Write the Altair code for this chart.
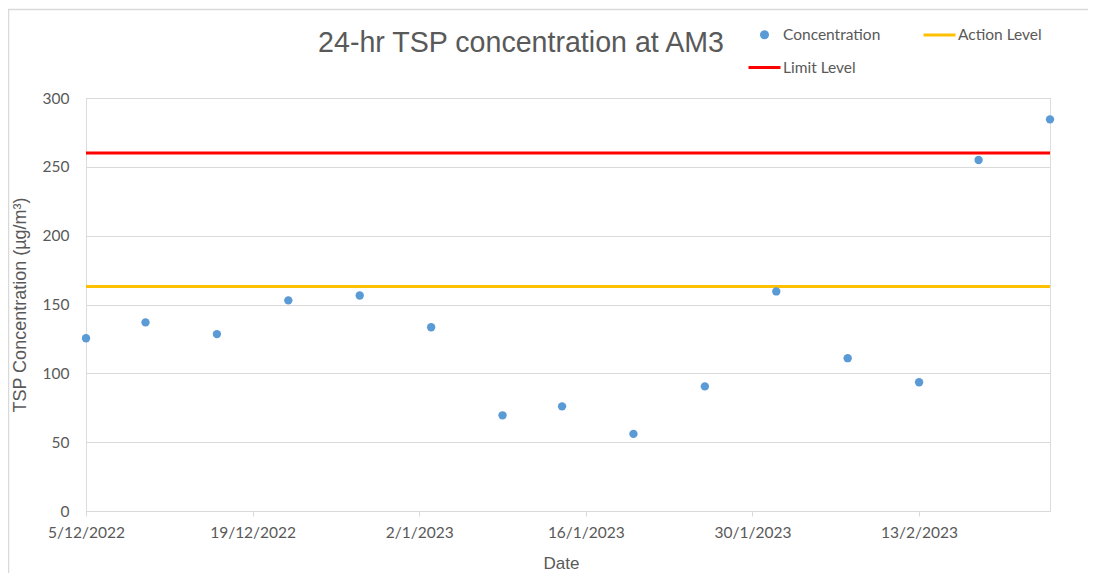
import altair as alt
import pandas as pd

# ---- data ----
chart_title = "24-hr TSP concentration at AM3"
dates = ["2022-12-05", "2022-12-10", "2022-12-16", "2022-12-22", "2022-12-28",
         "2023-01-03", "2023-01-09", "2023-01-14", "2023-01-20", "2023-01-26",
         "2023-02-01", "2023-02-07", "2023-02-13", "2023-02-18", "2023-02-24"]
concentration = [125.5, 137, 128.5, 153, 156.5, 133.5, 69.5, 76, 56, 90.5,
                 159.5, 111, 93.5, 255, 284.5]
level_names = ["Action Level", "Limit Level"]
level_values = [163, 260]
series_names = ["Concentration", "Action Level", "Limit Level"]
series_colors = ["#5B9BD5", "#FFC000", "#FF0000"]
x_tick_dates = ["2022-12-05", "2022-12-19", "2023-01-02", "2023-01-16",
                "2023-01-30", "2023-02-13"]
x_domain = ["2022-12-05", "2023-02-24"]
y_ticks = [0, 50, 100, 150, 200, 250, 300]

GRAY = "#595959"
GRID = "#D9D9D9"


def dt(s):
    y, m, d = (int(p) for p in s.split("-"))
    return alt.DateTime(year=y, month=m, date=d, utc=True)


conc_df = pd.DataFrame({"date": dates, "value": concentration,
                        "series": ["Concentration"] * len(dates)})
level_df = pd.DataFrame({"series": level_names, "value": level_values})
title_df = pd.DataFrame({"title": [chart_title]})

color_scale = alt.Scale(domain=series_names, range=series_colors)

# small circle path (unit coords scaled by sqrt(1024)/2 = 16 px)
CIRCLE = "M-0.19,0A0.19,0.19 0 1,0 0.19,0A0.19,0.19 0 1,0 -0.19,0Z"
legend = alt.Legend(
    title=None, orient="none", legendX=661, legendY=-81, direction="horizontal",
    columns=2, columnPadding=36, rowPadding=6,
    labelFont="Lato", labelFontSize=15.5, labelColor=GRAY, labelOffset=1,
    symbolSize=1024, symbolStrokeWidth=3, symbolOpacity=1,
    symbolType=alt.ExprRef(expr=f"datum.value === 'Concentration' ? '{CIRCLE}' : 'stroke'"),
    symbolStrokeColor=alt.ExprRef(expr="scale('color', datum.value)"),
    symbolFillColor=alt.ExprRef(expr="scale('color', datum.value)"),
)

x_enc = alt.X(
    "date:T",
    scale=alt.Scale(type="utc", domain=[dt(s) for s in x_domain]),
    axis=alt.Axis(
        title="Date", values=[dt(s) for s in x_tick_dates], format="%-d/%-m/%Y",
        grid=False, domainColor=GRID, tickColor=GRID, tickSize=5,
        labelFont="Lato", labelFontSize=15.5, labelColor=GRAY, labelPadding=9,
        titleFont="Liberation Sans", titleFontSize=17, titleFontWeight="normal",
        titleColor=GRAY, titlePadding=15, titleX=475, labelFlush=False,
    ),
)

y_axis = alt.Axis(
    title="TSP Concentration (µg/m³)", values=y_ticks, grid=True, gridColor=GRID,
    domain=False, ticks=False, labelPadding=17,
    labelFont="Lato", labelFontSize=15.5, labelColor=GRAY,
    titleFont="Liberation Sans", titleFontSize=18, titleFontWeight="normal",
    titleColor=GRAY, titlePadding=13,
)

points = alt.Chart(conc_df).mark_point(filled=True, size=70, opacity=1).encode(
    x=x_enc,
    y=alt.Y("value:Q", scale=alt.Scale(domain=[0, 300], nice=False), axis=y_axis),
    color=alt.Color("series:N", scale=color_scale, legend=legend),
)

rules = alt.Chart(level_df).mark_rule(strokeWidth=3).encode(
    y=alt.Y("value:Q"),
    color=alt.Color("series:N", scale=color_scale, legend=legend),
)

title = alt.Chart(title_df).mark_text(
    font="Liberation Sans", fontSize=28.6, color=GRAY, align="center",
    baseline="alphabetic",
).encode(text="title:N", x=alt.value(435), y=alt.value(-46))

border = alt.Chart(pd.DataFrame({"a": [0]})).mark_rect(
    fill=None, stroke=GRID, strokeWidth=1.5
).encode(
    x=alt.value(-77.5), x2=alt.value(1100), y=alt.value(-88.5), y2=alt.value(520)
)

chart = alt.layer(border, rules, points, title).properties(
    width=964, height=413,
    padding={"left": 78, "top": 90, "right": 38, "bottom": 62},
    autosize=alt.AutoSizeParams(type="none"),
).configure_view(stroke=None).configure(background="white")

chart.save("out.html", embed_options={"renderer": "svg", "actions": False})
